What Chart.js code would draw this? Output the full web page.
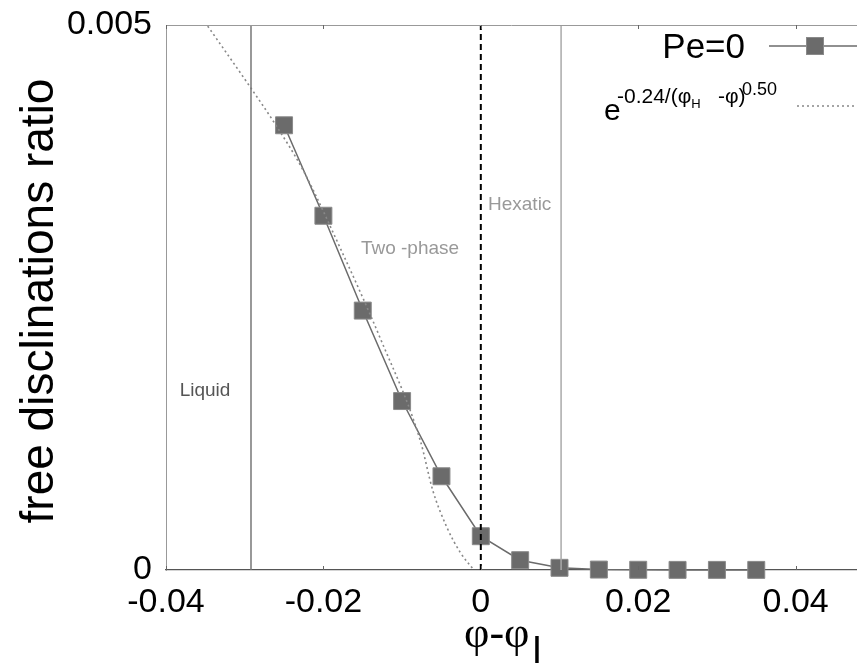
<!DOCTYPE html>
<html><head><meta charset="utf-8">
<script src="https://cdn.jsdelivr.net/npm/chart.js@4.4.0/dist/chart.umd.min.js"></script>
<style>html,body{margin:0;padding:0;background:#fff}</style>
</head><body><canvas id="c" width="857" height="663"></canvas>
<script>
// ---- data ----
const phi = [-0.025,-0.02,-0.015,-0.01,-0.005,0,0.005,0.01,0.015,0.02,0.025,0.03,0.035];
const ratioPe0 = [0.00408,0.00325,0.00238,0.00155,0.00086,0.00031,0.00009,0.00002,0.000004,0.000002,0.000001,0.000001,0.000001];
const fitPhi = [-0.0347,-0.0292,-0.0263,-0.0226,-0.0179,-0.0128,-0.0077,-0.0061,-0.0043,-0.0026,-0.001];
const fitRatio = [0.00499,0.00442,0.00411,0.00367,0.00296,0.00213,0.00119,0.00073,0.00039,0.00016,0.00001];
const boundaries = {liquid:-0.0292, transition:0, hexatic:0.0102};
const xTicks = [-0.04,-0.02,0,0.02,0.04];
const xTickLabels = ['-0.04','-0.02','0','0.02','0.04'];
const yTicks = [0,0.005];
const yTickLabels = ['0','0.005'];
const seriesLabel = 'Pe=0';
const yTitle = 'free disclinations ratio';

const SANS = '"Liberation Sans", Arial, Helvetica, sans-serif';
const SERIF = '"Liberation Serif", "Times New Roman", serif';
const xy = (xs, ys) => xs.map((x,i)=>({x, y:ys[i]}));
const vline = v => [{x:v,y:0},{x:v,y:0.005}];

const decor = {
  id:'decor',
  afterDraw(chart){
    const {ctx, chartArea:a, scales:{x, y}} = chart;
    ctx.save();
    // top frame
    ctx.strokeStyle='#999'; ctx.lineWidth=1;
    ctx.beginPath(); ctx.moveTo(a.left, a.top+0.5); ctx.lineTo(a.right, a.top+0.5); ctx.stroke();
    // inner tick marks
    ctx.strokeStyle='#666';
    xTicks.forEach(v=>{
      const px = Math.round(x.getPixelForValue(v))+0.5;
      ctx.beginPath(); ctx.moveTo(px, a.bottom); ctx.lineTo(px, a.bottom-4);
      ctx.moveTo(px, a.top); ctx.lineTo(px, a.top+4); ctx.stroke();
    });
    // y title
    ctx.save();
    ctx.fillStyle='#000'; ctx.font='46px '+SANS;
    ctx.translate(53, 301); ctx.rotate(-Math.PI/2);
    ctx.textAlign='center'; ctx.textBaseline='alphabetic';
    ctx.fillText(yTitle, 0, 0);
    ctx.restore();
    // x title
    ctx.fillStyle='#000'; ctx.textAlign='left'; ctx.textBaseline='alphabetic';
    ctx.font='44px '+SERIF;
    ctx.fillText('φ-φ', 464, 647);
    const w = ctx.measureText('φ-φ').width;
    ctx.font='40px '+SANS;
    ctx.fillText('l', 464+w+3, 666);
    // region labels
    ctx.font='19px '+SANS;
    ctx.fillStyle='#555'; ctx.textAlign='center';
    ctx.fillText('Liquid', 205, 396);
    ctx.fillStyle='#999';
    ctx.fillText('Two -phase', 410, 254);
    ctx.textAlign='left';
    ctx.fillText('Hexatic', 488, 210);
    // legend
    ctx.fillStyle='#000'; ctx.textAlign='right';
    ctx.font='35px '+SANS;
    ctx.fillText(seriesLabel, 745, 58);
    ctx.strokeStyle='#6b6b6b'; ctx.lineWidth=1.5;
    ctx.beginPath(); ctx.moveTo(769,46); ctx.lineTo(857,46); ctx.stroke();
    ctx.fillStyle='#6b6b6b'; ctx.fillRect(806.5,37.5,17,17);
    ctx.strokeStyle='#8a8a8a'; ctx.lineWidth=1; ctx.strokeRect(806.5,37.5,17,17);
    // fit legend
    ctx.fillStyle='#000'; ctx.textAlign='left';
    ctx.font='30px '+SANS; ctx.fillText('e', 604, 120);
    ctx.font='21px '+SANS; ctx.fillText('-0.24/(φ', 617, 103);
    let w2 = ctx.measureText('-0.24/(φ').width;
    ctx.font='13px '+SANS; ctx.fillText('H', 617+w2, 108);
    ctx.font='21px '+SANS; ctx.fillText('-φ)', 718, 103);
    ctx.font='18px '+SANS; ctx.fillText('0.50', 742, 95);
    ctx.strokeStyle='#888'; ctx.lineWidth=1.5; ctx.setLineDash([2,3]);
    ctx.beginPath(); ctx.moveTo(797,106); ctx.lineTo(857,106); ctx.stroke();
    ctx.restore();
  }
};

new Chart(document.getElementById('c'), {
  type:'scatter',
  data:{datasets:[
    {label:'liquid', data:vline(boundaries.liquid), showLine:true, borderColor:'#777', borderWidth:1.5, pointRadius:0},
    {label:'transition', data:vline(boundaries.transition), showLine:true, borderColor:'#000', borderWidth:2, borderDash:[6,4], pointRadius:0},
    {label:'hexatic', data:vline(boundaries.hexatic), showLine:true, borderColor:'#aaa', borderWidth:1.5, pointRadius:0},
    {label:'fit', data:xy(fitPhi, fitRatio), showLine:true, borderColor:'#888', borderWidth:1.6, borderDash:[2,3], pointRadius:0, cubicInterpolationMode:'monotone'},
    {label:seriesLabel, data:xy(phi, ratioPe0), showLine:true, clip:false, borderColor:'#6b6b6b', borderWidth:1.5,
      pointStyle:'rect', pointRadius:12, pointBackgroundColor:'#6b6b6b', pointBorderColor:'#8a8a8a', pointBorderWidth:1}
  ]},
  options:{
    responsive:false, animation:false, devicePixelRatio:1,
    layout:{autoPadding:false, padding:{top:25,left:0,right:0,bottom:0}},
    plugins:{legend:{display:false}, tooltip:{enabled:false}},
    scales:{
      x:{type:'linear', min:-0.04, max:0.0478,
        afterFit:s=>{s.height=93; s.paddingLeft=0; s.paddingRight=0;},
        afterBuildTicks:s=>{s.ticks = xTicks.map(v=>({value:v}));},
        grid:{display:false, drawTicks:false},
        border:{display:true, color:'#555', width:1.2},
        ticks:{autoSkip:false, maxRotation:0, padding:12, color:'#000', font:{family:SANS, size:34},
          callback:(v,i)=>xTickLabels[i]}},
      y:{type:'linear', min:0, max:0.005,
        afterFit:s=>{s.width=166; s.paddingTop=0; s.paddingBottom=0;},
        afterBuildTicks:s=>{s.ticks = yTicks.map(v=>({value:v}));},
        grid:{display:false, drawTicks:false},
        border:{display:true, color:'#999', width:1},
        ticks:{autoSkip:false, padding:14, color:'#000', font:{family:SANS, size:34},
          callback:(v,i)=>yTickLabels[i]}}
    }
  },
  plugins:[decor]
});
</script></body></html>
